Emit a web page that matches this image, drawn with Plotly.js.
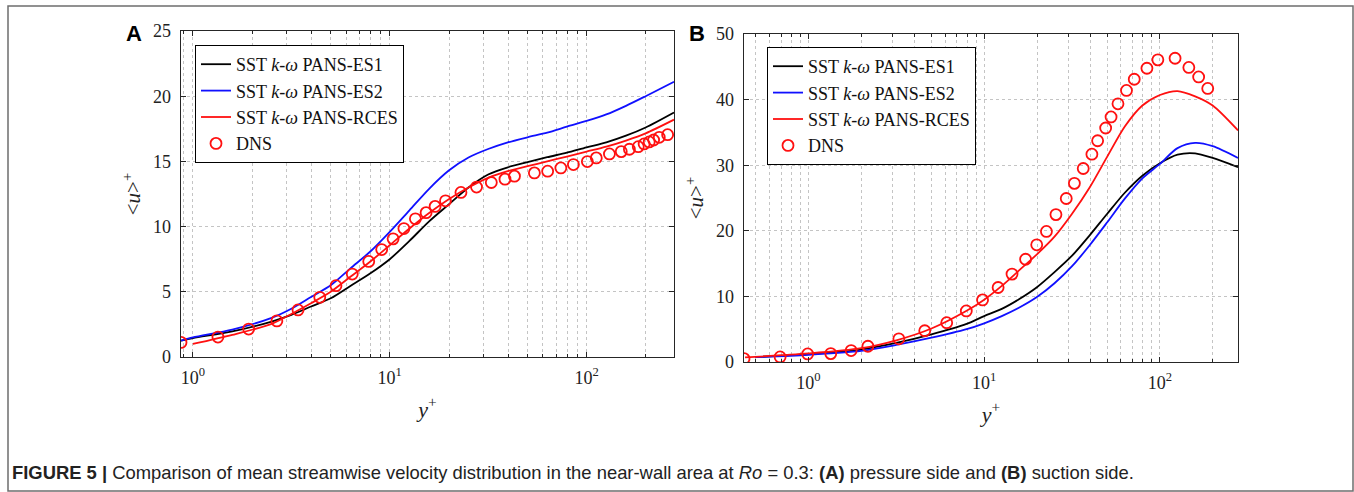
<!DOCTYPE html>
<html>
<head>
<meta charset="utf-8">
<script src="https://cdn.plot.ly/plotly-3.0.1.min.js"></script>
<style>
html,body{margin:0;padding:0;background:#fff;}
#chart{width:1354px;height:492px;}
</style>
</head>
<body>
<div id="chart"></div>
<script>
// ---------- Panel A (pressure side) ----------
const xA_es1 = [0.87,1,1.585,2.512,3.162,3.981,5.012,6.31,7.943,10,12.59,15.85,19.95,25.12,31.62,39.81,50.12,63.1,79.43,100,125.9,158.5,199.5,278];
const uA_es1 = [1.25,1.45,1.96,2.72,3.23,3.87,4.5,5.45,6.4,7.5,8.9,10.4,11.7,13.0,14.0,14.55,14.94,15.32,15.67,16.08,16.46,16.97,17.6,18.75];
const xA_es2 = [0.87,1,1.585,2.512,3.162,3.981,5.012,6.31,7.943,10,12.59,15.85,19.95,25.12,31.62,39.81,50.12,63.1,79.43,100,125.9,158.5,199.5,278];
const uA_es2 = [1.25,1.5,2.1,3.0,3.7,4.6,5.5,6.8,8.07,9.6,11.25,12.9,14.3,15.3,15.95,16.46,16.85,17.2,17.66,18.1,18.6,19.26,20.0,21.1];
const xA_rces = [1,1.585,2.512,3.162,3.981,5.012,6.31,7.943,10,12.59,15.85,19.95,25.12,31.62,39.81,50.12,63.1,79.43,100,125.9,158.5,199.5,278];
const uA_rces = [1.0,1.7,2.54,3.3,4.12,5.0,6.15,7.3,8.57,9.85,11.04,12.1,13.0,13.74,14.25,14.63,15.0,15.37,15.75,16.13,16.6,17.15,18.2];
const xA_dns = [0.87,1.34,1.92,2.67,3.42,4.41,5.33,6.45,7.82,9.10,10.4,11.8,13.5,15.3,17.0,19.2,23.0,27.6,32.8,38.5,43.0,54.3,63.4,74.0,85.7,100.9,112,130.6,150,165,183,196,208,219,234,258];
const uA_dns = [1.12,1.53,2.14,2.77,3.61,4.58,5.47,6.36,7.33,8.24,9.06,9.85,10.6,11.07,11.55,11.98,12.62,13.03,13.38,13.64,13.87,14.12,14.25,14.50,14.76,14.99,15.27,15.57,15.75,15.93,16.13,16.34,16.49,16.64,16.85,17.05];

// ---------- Panel B (suction side) ----------
const xB_es1 = [0.5,1,2.0,3.162,5.012,7.943,10,12.59,15.85,19.95,25.12,31.62,39.81,50.12,63.1,79.43,100,125.9,158.5,199.5,278];
const uB_es1 = [0.75,1.2,1.9,2.9,4.2,5.8,7.0,8.1,9.6,11.4,13.7,16.2,19.3,22.6,25.8,28.4,30.3,31.6,31.8,31.1,29.7];
const xB_es2 = [0.5,1,2.0,3.162,5.012,7.943,10,12.59,15.85,19.95,25.12,31.62,39.81,50.12,63.1,79.43,100,125.9,158.5,199.5,278];
const uB_es2 = [0.75,1.1,1.7,2.6,3.7,5.0,5.9,7.0,8.3,9.9,12.0,14.6,17.8,21.3,24.9,28.0,30.2,32.6,33.4,32.9,31.1];
const xB_rces = [0.436,1,2.0,3.162,5.012,7.943,10,12.59,15.85,19.95,25.12,31.62,39.81,50.12,63.1,79.43,100,125.9,158.5,199.5,278];
const uB_rces = [0.7,1.3,2.1,3.3,5.1,7.8,9.5,11.6,14.0,16.4,19.1,22.6,26.6,31.3,35.9,39.1,40.7,41.3,40.5,39.1,35.3];
const xB_dns = [0.43,0.69,0.99,1.34,1.75,2.18,3.27,4.59,6.12,7.91,9.79,12.0,14.4,17.2,19.9,22.6,25.6,29.3,32.6,36.6,41.0,44.2,49.1,52.7,57.7,64.5,71.4,84.3,97.3,121.9,146,166,187];
const uB_dns = [0.51,0.77,1.23,1.28,1.74,2.4,3.53,4.76,5.99,7.78,9.47,11.36,13.4,15.66,17.86,19.9,22.47,24.92,27.23,29.5,31.68,33.73,35.67,37.36,39.36,41.4,43.1,44.78,46.06,46.3,44.9,43.45,41.7];

// ---------- labels ----------
const seriesNames = ['SST <i>k</i>-<i>ω</i> PANS-ES1','SST <i>k</i>-<i>ω</i> PANS-ES2','SST <i>k</i>-<i>ω</i> PANS-RCES','DNS'];
const xTickVals = [1,10,100];
const xTickText = ['10<sup>0</sup>','10<sup>1</sup>','10<sup>2</sup>'];
const xMinorVals = [0.4,0.5,0.6,0.7,0.8,0.9,2,3,4,5,6,7,8,9,20,30,40,50,60,70,80,90,200,300];
const xRangeA = [0.87,278];
const xRangeB = [0.43,278];
const yRangeA = [0,25];
const yRangeB = [0,50];
const captionText = '<b>FIGURE 5 |</b> Comparison of mean streamwise velocity distribution in the near-wall area at <i>Ro</i> = 0.3: <b>(A)</b> pressure side and <b>(B)</b> suction side.';

const W = 1354, H = 492;
const px = v => v / W;
const py = v => 1 - v / H;

const serif = 'Liberation Serif, Times New Roman, serif';
const colES1 = '#000000', colES2 = '#1010ff', colRCES = '#ff1010';

function line(x, y, name, color, xa, ya, leg, show) {
  return {x, y, name, type:'scatter', mode:'lines', line:{color, width:1.8, shape:'spline', smoothing:0.8},
          xaxis:xa, yaxis:ya, legend:leg, showlegend:show};
}
function dns(x, y, xa, ya, leg) {
  return {x, y, name:seriesNames[3], type:'scatter', mode:'markers',
          marker:{symbol:'circle-open', size:11, color:colRCES, line:{width:1.8, color:colRCES}},
          xaxis:xa, yaxis:ya, legend:leg};
}

const data = [
  line(xA_es1, uA_es1, seriesNames[0], colES1, 'x', 'y', 'legend', true),
  line(xA_es2, uA_es2, seriesNames[1], colES2, 'x', 'y', 'legend', true),
  line(xA_rces, uA_rces, seriesNames[2], colRCES, 'x', 'y', 'legend', true),
  dns(xA_dns, uA_dns, 'x', 'y', 'legend'),
  line(xB_es1, uB_es1, seriesNames[0], colES1, 'x2', 'y2', 'legend2', true),
  line(xB_es2, uB_es2, seriesNames[1], colES2, 'x2', 'y2', 'legend2', true),
  line(xB_rces, uB_rces, seriesNames[2], colRCES, 'x2', 'y2', 'legend2', true),
  dns(xB_dns, uB_dns, 'x2', 'y2', 'legend2')
];

const tickFont = {family: serif, size: 18, color: '#222'};
const gridCol = '#c4c4c4';

function xAxis(domain, range, anchor) {
  return {
    type:'log', domain, anchor, range:[Math.log10(range[0]), Math.log10(range[1])],
    tickmode:'array', tickvals:xTickVals, ticktext:xTickText,
    ticks:'inside', ticklen:5, tickwidth:1, tickcolor:'#262626',
    showline:true, linecolor:'#262626', linewidth:1.3, mirror:'allticks',
    showgrid:true, gridcolor:gridCol, griddash:'dot', gridwidth:1,
    minor:{tickmode:'array', tickvals:xMinorVals, ticks:'inside', ticklen:3, tickcolor:'#262626',
           showgrid:true, gridcolor:gridCol, griddash:'dot', gridwidth:1},
    tickfont:tickFont, ticklabelstandoff:4, zeroline:false, fixedrange:true,
    title:{text:'<i>y</i><sup>+</sup>', font:{family:serif, size:22, color:'#222'}, standoff:14}
  };
}
function yAxis(domain, range, dtick, anchor) {
  return {
    domain, anchor, range, dtick, tick0:0,
    ticks:'inside', ticklen:5, tickwidth:1, tickcolor:'#262626',
    showline:true, linecolor:'#262626', linewidth:1.3, mirror:'allticks',
    showgrid:true, gridcolor:gridCol, griddash:'dot', gridwidth:1,
    tickfont:tickFont, ticklabelstandoff:5, zeroline:false, fixedrange:true,
    title:{text:'&lt;<i>u</i>&gt;<sup>+</sup>', font:{family:serif, size:21, color:'#222'}, standoff:6}
  };
}

const legendCommon = {
  xref:'paper', yref:'paper', xanchor:'left', yanchor:'top',
  bgcolor:'#ffffff', bordercolor:'#000000', borderwidth:1,
  font:{family:serif, size:18, color:'#111'}, tracegroupgap:0, itemwidth:30
};

const layout = {
  width:W, height:H,
  margin:{l:0, r:0, t:0, b:0},
  paper_bgcolor:'#ffffff', plot_bgcolor:'#ffffff',
  showlegend:true,
  xaxis: xAxis([px(181), px(674)], xRangeA, 'y'),
  yaxis: yAxis([py(357), py(31)], yRangeA, 5, 'x'),
  xaxis2: xAxis([px(744), px(1238)], xRangeB, 'y2'),
  yaxis2: yAxis([py(362), py(34)], yRangeB, 10, 'x2'),
  legend: Object.assign({x:px(195), y:py(45)}, legendCommon),
  legend2: Object.assign({x:px(767), y:py(47)}, legendCommon),
  shapes:[
    {type:'rect', xref:'paper', yref:'paper', x0:px(8), x1:px(1353), y0:py(491), y1:py(6),
     line:{color:'#6e6e6e', width:1.5}, fillcolor:'rgba(0,0,0,0)', layer:'below'}
  ],
  annotations:[
    {text:'<b>A</b>', xref:'paper', yref:'paper', x:px(134), y:py(34), xanchor:'center', yanchor:'middle',
     showarrow:false, font:{family:'Liberation Sans, Arial, sans-serif', size:22, color:'#000'}},
    {text:'<b>B</b>', xref:'paper', yref:'paper', x:px(697), y:py(34), xanchor:'center', yanchor:'middle',
     showarrow:false, font:{family:'Liberation Sans, Arial, sans-serif', size:22, color:'#000'}},
    {text:captionText, xref:'paper', yref:'paper', x:px(10), y:py(472), xanchor:'left', yanchor:'middle',
     showarrow:false, font:{family:'Liberation Sans, Arial, sans-serif', size:18.4, color:'#222'}}
  ]
};

Plotly.newPlot('chart', data, layout, {staticPlot:true, displayModeBar:false});
</script>
</body>
</html>
